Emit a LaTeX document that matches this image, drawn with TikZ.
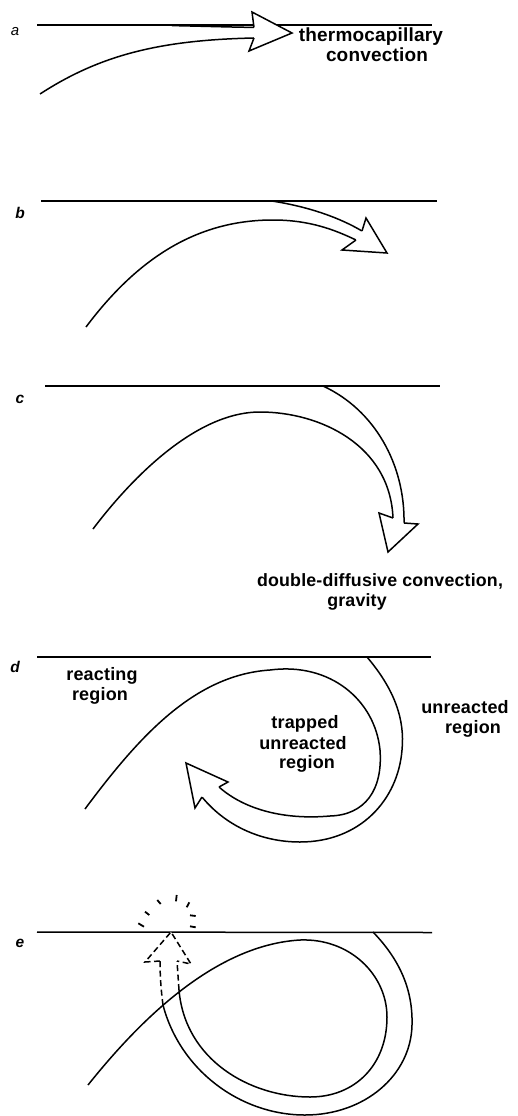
\documentclass[tikz,border=0pt]{standalone}
\usepackage{fontspec}
\newfontfamily\labfont[LetterSpace=1]{Liberation Sans}
\newfontfamily\panfont{Liberation Sans}
\begin{document}
\begin{tikzpicture}[x=1pt,y=-1pt]
\tikzset{
 ln/.style={line width=1.5pt},
 head/.style={line width=1.5pt, fill=white, line join=miter},
 dsh/.style={line width=1.5pt, dash pattern=on 6pt off 3.5pt},
 dhead/.style={line width=1.5pt, fill=white, line join=miter, dash pattern=on 6pt off 3.5pt},
 txt/.style={font=\labfont\bfseries\fontsize{18}{20}\selectfont, inner sep=0pt, anchor=base},
 txtbig/.style={txt, font=\labfont\bfseries\fontsize{19}{21}\selectfont},
 txtsmall/.style={txt, font=\labfont\bfseries\fontsize{17.8}{20}\selectfont},
 pl/.style={font=\panfont\bfseries\itshape\fontsize{15.5}{17}\selectfont, inner sep=0pt},
 spark/.style={line width=1.8pt}
}
\useasboundingbox[fill=white] (0,0) rectangle (518,1116);

% ---------- panel a ----------
\node[pl, font=\panfont\itshape\fontsize{15}{17}\selectfont] (la) at (15,32) {a};
\coordinate (aL) at (37,25); \coordinate (aR) at (432,25);
\draw[ln] (aL) -- (aR);
\draw[ln] (172,25.6) .. controls (210,26.4) and (235,27.2) .. (254,27.4);
\draw[ln] (40,94) .. controls (100,55) and (160,40) .. (254,38);
\draw[head] (254,27.5) -- (252,12) -- (292,33) -- (249,51) -- (254,38);
\node[txtbig] (ta1) at (371,41.5) {thermocapillary};
\node[txtbig] (ta2) at (377,61.5) {convection};

% ---------- panel b ----------
\node[pl] (lb) at (20,213) {b};
\draw[ln] (41,201) -- (437,201);
\draw[ln] (272,201) .. controls (310,207) and (340,218) .. (362,231);
\draw[ln] (86,327) .. controls (140,255) and (200,220) .. (273,220) .. controls (310,220) and (335,230) .. (356,240);
\draw[head] (362,231) -- (366,218) -- (387,253) -- (342,250) -- (356,240);

% ---------- panel c ----------
\node[pl] (lc) at (20,399) {c};
\draw[ln] (45,386) -- (440,386);
\draw[ln] (323,386) .. controls (375,410) and (405,465) .. (404,523);
\draw[ln] (93,529) .. controls (130,480) and (195,412) .. (260,412) .. controls (320,412) and (390,445) .. (393,518);
\draw[head] (404,523) -- (418,524) -- (388,552) -- (379,513) -- (393,518);
\node[txtsmall] (tc1) at (380,586) {double-diffusive convection,};
\node[txtsmall] (tc2) at (357,606) {gravity};

% ---------- panel d ----------
\node[pl] (ld) at (15,667) {d};
\draw[ln] (37,657) -- (431,657);
\draw[ln] (367,657) .. controls (395,690) and (405,720) .. (402,750) .. controls (398,800) and (360,842) .. (300,842) .. controls (260,842) and (225,825) .. (202,797);
\draw[ln] (85,809) .. controls (140,735) and (195,675) .. (270,670) .. controls (330,662) and (375,700) .. (380,750) .. controls (383,790) and (365,815) .. (330,816) .. controls (285,820) and (245,810) .. (219,787);
\draw[head] (202,797) -- (195,808) -- (186,763) -- (228,782) -- (219,787);
\node[txt] (td1) at (102,680.5) {reacting};
\node[txt] (td2) at (100,700.5) {region};
\node[txt] (td3) at (305,728) {trapped};
\node[txt] (td4) at (303,749) {unreacted};
\node[txt] (td5) at (307,768) {region};
\node[txt] (td6) at (465,713) {unreacted};
\node[txt] (td7) at (473,733) {region};

% ---------- panel e ----------
\node[pl] (le) at (20,943) {e};
\draw[ln] (37,932) -- (432,932.5);
\draw[ln] (163,1005) .. controls (180,1070) and (240,1115) .. (305,1115) .. controls (365,1115) and (411,1075) .. (412,1025) .. controls (413,990) and (400,960) .. (373,932);
\draw[dsh] (163,1005) .. controls (161,990) and (160,975) .. (160,961);
\draw[ln] (88,1085) .. controls (140,1020) and (215,945) .. (300,940) .. controls (350,938) and (387,975) .. (387,1017) .. controls (387,1065) and (355,1097) .. (310,1097) .. controls (250,1097) and (185,1060) .. (179,990);
\draw[dsh] (179,990) -- (177,961);
\draw[dhead] (160,961) -- (145,962) -- (171,932) -- (191,964) -- (177,961);
% sparks
\draw[spark] (138.3,923.3) -- (144,926.7);
\draw[spark] (145,911.7) -- (149.3,915);
\draw[spark] (157.3,900) -- (160.7,904);
\draw[spark] (176.7,895) -- (176,901.3);
\draw[spark] (189.3,902.3) -- (186.7,907.3);
\draw[spark] (190,915.3) -- (195.7,916);
\draw[spark] (190,926.3) -- (195.7,927.3);
\end{tikzpicture}
\end{document}
